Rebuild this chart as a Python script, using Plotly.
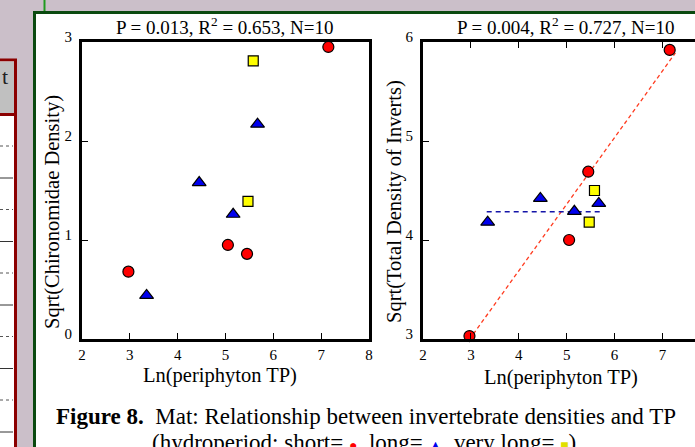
import plotly.graph_objects as go

W, H = 695, 447

# ---- data ----
short_x = [2.97, 5.05, 5.45, 7.15]
short_chiro = [0.68, 0.95, 0.86, 2.95]
short_total = [3.03, 4.00, 4.69, 5.92]

long_x = [3.35, 4.45, 5.16, 5.67]
long_chiro = [0.44, 1.58, 1.26, 2.17]
long_total = [4.18, 4.42, 4.29, 4.37]

vlong_x = [5.58, 5.47]
vlong_chiro = [2.81, 1.39]
vlong_total = [4.50, 4.18]

red_fit_x = [3.05, 7.27]
red_fit_y = [3.05, 5.89]
blue_fit_x = [3.33, 5.76]
blue_fit_y = [4.286, 4.286]

x_ticks = [2, 3, 4, 5, 6, 7, 8]
chiro_ticks = [0, 1, 2, 3]
total_ticks = [3, 4, 5, 6]

title1 = "P = 0.013, R<sup>2</sup> = 0.653, N=10"
title2 = "P = 0.004, R<sup>2</sup> = 0.727, N=10"

SERIF = "Liberation Serif, DejaVu Serif, serif"

def px(x):
    return x / W

def py(y):
    return 1 - y / H

fig = go.Figure()

def add_markers(xa, ya, xs, ys, symbol, color, size):
    fig.add_trace(go.Scatter(
        x=xs, y=ys, mode="markers", xaxis=xa, yaxis=ya,
        marker=dict(symbol=symbol, color=color, size=size,
                    line=dict(color="black", width=1.2)),
        showlegend=False, hoverinfo="skip", cliponaxis=False))

# panel 1
add_markers("x", "y", short_x, short_chiro, "circle", "#ff0000", 11)
add_markers("x", "y", long_x, long_chiro, "triangle-up", "#0000ee", 12)
add_markers("x", "y", vlong_x, vlong_chiro, "square", "#ffff00", 10)

# panel 2
fig.add_trace(go.Scatter(x=red_fit_x, y=red_fit_y, mode="lines", xaxis="x2", yaxis="y2",
                         line=dict(color="#ff3b1f", width=1.3, dash="4px,3px"),
                         showlegend=False, hoverinfo="skip"))
fig.add_trace(go.Scatter(x=blue_fit_x, y=blue_fit_y, mode="lines", xaxis="x2", yaxis="y2",
                         line=dict(color="#1414a8", width=1.4, dash="5px,4px"),
                         showlegend=False, hoverinfo="skip"))
add_markers("x2", "y2", short_x, short_total, "circle", "#ff0000", 11)
add_markers("x2", "y2", long_x, long_total, "triangle-up", "#0000ee", 12)
add_markers("x2", "y2", vlong_x, vlong_total, "square", "#ffff00", 10)

axis_common = dict(
    showgrid=False, zeroline=False, showline=True, linecolor="black", linewidth=3,
    mirror=True, ticks="inside", ticklen=6, tickwidth=1, tickcolor="black",
    automargin=False,
    tickfont=dict(family=SERIF, size=15, color="black"),
)

fig.update_layout(
    width=W, height=H,
    margin=dict(l=0, r=0, t=0, b=0),
    paper_bgcolor="#cbbfc9",
    plot_bgcolor="rgba(0,0,0,0)",
    xaxis=dict(axis_common, domain=[px(82), px(369)], range=[2, 8],
               tickvals=x_ticks, anchor="y"),
    yaxis=dict(axis_common, domain=[py(339), py(42)], range=[0, 3],
               tickvals=chiro_ticks, anchor="x", ticklabelshift=-5, ticklabelstandoff=4),
    xaxis2=dict(axis_common, domain=[px(423), 1.0], range=[2, 2 + (695 - 423) / 47.9],
                tickvals=x_ticks[:-1], anchor="y2", mirror="allticks"),
    yaxis2=dict(axis_common, domain=[py(339), py(42)], range=[3, 6],
                tickvals=total_ticks, anchor="x2", mirror=False, ticklabelshift=-5,
                ticklabelstandoff=4),
)

shapes = []
# page background elements: left table
shapes.append(dict(type="rect", xref="paper", yref="paper", x0=px(-5), x1=px(15.5),
                   y0=py(460), y1=py(60), fillcolor="white",
                   line=dict(color="#8b0000", width=3), layer="below"))
shapes.append(dict(type="rect", xref="paper", yref="paper", x0=px(-5), x1=px(14),
                   y0=py(114), y1=py(61.5), fillcolor="#c0c0c0", line=dict(width=0),
                   layer="below"))
shapes.append(dict(type="line", xref="paper", yref="paper", x0=px(-5), x1=px(14),
                   y0=py(114.5), y1=py(114.5), line=dict(color="#8b0000", width=3),
                   layer="below"))
for i in range(6):
    yd = 146 + i * 63.5
    ys = 178 + i * 63.5
    shapes.append(dict(type="line", xref="paper", yref="paper", x0=0, x1=px(13),
                       y0=py(yd), y1=py(yd), line=dict(color="#555555", width=1, dash="dot"),
                       layer="below"))
    if ys < H:
        shapes.append(dict(type="line", xref="paper", yref="paper", x0=0, x1=px(13),
                           y0=py(ys), y1=py(ys), line=dict(color="#333333", width=1),
                           layer="below"))
# green vertical line at top
shapes.append(dict(type="line", xref="paper", yref="paper", x0=px(44.5), x1=px(44.5),
                   y0=py(0), y1=py(12), line=dict(color="#1f9a1f", width=2), layer="below"))
# white figure panel with dark green border
shapes.append(dict(type="rect", xref="paper", yref="paper", x0=px(34.5), x1=px(720),
                   y0=py(470), y1=py(12.5), fillcolor="white",
                   line=dict(color="#0b4a10", width=3), layer="below"))
fig.update_layout(shapes=shapes)

ann = []
def add_text(text, x, y, size, xanchor="center", angle=0, color="black"):
    ann.append(dict(text=text, x=px(x), y=py(y), xref="paper", yref="paper",
                    showarrow=False, xanchor=xanchor, yanchor="middle", textangle=angle,
                    font=dict(family=SERIF, size=size, color=color)))

add_text("t", 0, 77, 22, xanchor="left", color="#222")
add_text(title1, 225, 26, 19)
add_text(title2, 566, 26, 19)
add_text("Ln(periphyton TP)", 220, 375, 20.5)
add_text("Ln(periphyton TP)", 561, 377, 20.5)
add_text("Sqrt(Chironomidae Density)", 52, 212, 20.5, angle=-90)
add_text("Sqrt(Total Density of Inverts)", 395, 202, 20.5, angle=-90)
add_text("<b>Figure 8.</b>  Mat: Relationship between invertebrate densities and TP",
         54, 416, 23, xanchor="left")
add_text("(hydroperiod: short= <span style='color:#ff0000;font-size:14px'>●</span>, long= "
         "<span style='color:#0000ee;font-size:14px'>▲</span>, very long= "
         "<span style='color:#e0e000;font-size:14px'>■</span>).", 150, 442, 23, xanchor="left")
fig.update_layout(annotations=ann)

fig.write_html("out.html", config={"displayModeBar": False},
               post_script="document.body.style.margin='0';document.body.style.overflow='hidden';")
